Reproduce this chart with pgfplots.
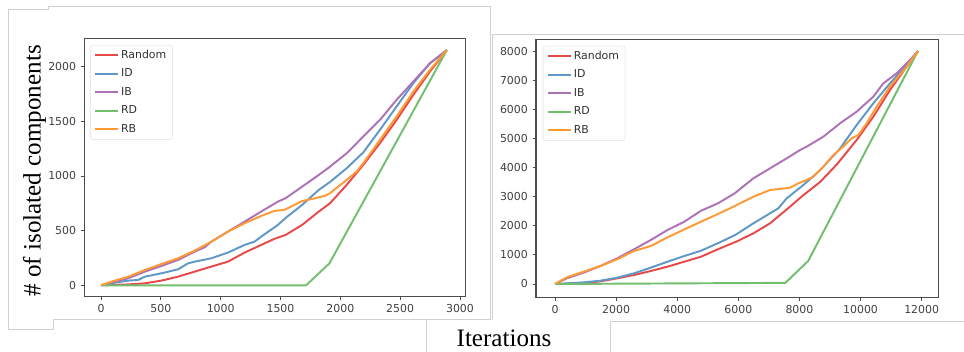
\documentclass[border=0pt]{standalone}
\usepackage{pgfplots}
\pgfplotsset{compat=1.18}
\usepackage{fontspec}
\setmainfont{Liberation Serif}
\newfontfamily\dejavu{DejaVu Sans}
\definecolor{cR}{RGB}{233,72,73}
\definecolor{cB}{RGB}{95,152,198}
\definecolor{cP}{RGB}{173,113,181}
\definecolor{cG}{RGB}{113,191,110}
\definecolor{cO}{RGB}{255,153,51}
\definecolor{frm}{RGB}{208,208,208}
\pgfplotsset{myax/.style={
  scale only axis, anchor=south west,
  axis line style={black!70, line width=0.8pt},
  tick align=outside, tick pos=left, major tick length=2.6pt,
  tick style={black!70, line width=0.6pt},
  ticklabel style={font=\dejavu\fontsize{8.2}{9}\selectfont, text=black!75},
  /pgf/number format/assume math mode=true,
  /pgf/number format/1000 sep={},
  scaled ticks=false,
  every axis plot/.append style={line width=1.45pt, no markers, line join=round},
  legend cell align=left,
  legend image code/.code={\draw[##1, line width=1.5pt] (0pt,0pt) -- (17pt,0pt);},
  legend style={font=\dejavu\fontsize{8.2}{9}\selectfont, text=black!80,
    draw=black!12, rounded corners=2pt, fill=white,
    nodes={text height=6.3pt, text depth=1.8pt, inner sep=1.6pt},
    row sep=2.6pt, inner xsep=3pt, inner ysep=2pt},
}}
\begin{document}
\begin{tikzpicture}
\path[use as bounding box] (0,0) rectangle (723pt,264pt);
% frame lines
\draw[frm, line width=0.75pt] (6.2pt,16.5pt) -- (6.2pt,256.9pt) -- (36pt,256.9pt) -- (36pt,259.1pt) -- (368pt,259.1pt);
\draw[frm, line width=0.75pt] (6.2pt,16.5pt) -- (40pt,16.5pt) -- (40pt,24pt) -- (368pt,24pt);
\draw[frm, line width=0.75pt] (368pt,259.1pt) -- (368pt,24pt);
\draw[frm, line width=0.75pt] (320.2pt,24pt) -- (320.2pt,0pt);
\draw[frm, line width=0.75pt] (723pt,237.75pt) -- (369.5pt,237.75pt) -- (369.5pt,24pt);
\draw[frm, line width=0.75pt] (457.5pt,0pt) -- (457.5pt,22.7pt) -- (723pt,22.7pt);
% left panel
\begin{axis}[myax, at={(63.2pt,41.5pt)}, width=286pt, height=193.5pt,
  xmin=-140, xmax=3047, ymin=-104, ymax=2255,
  xtick={0,500,...,3000}, ytick={0,500,...,2000},
  legend style={at={(0.015,0.976)}, anchor=north west}]
\addplot[cR] coordinates {(0,0) (228,8) (367,18) (506,43) (644,79) (783,125) (922,171) (1061,216) (1200,299) (1339,369) (1450,425) (1542,460) (1681,552) (1820,674) (1914,750) (2053,918) (2192,1101) (2331,1299) (2470,1512) (2610,1741) (2749,1954) (2890,2150)};
\addlegendentry{Random}
\addplot[cB] coordinates {(0,0) (117,24) (228,43) (311,49) (367,79) (506,110) (644,146) (728,201) (783,216) (922,247) (1061,299) (1200,369) (1283,399) (1339,445) (1478,552) (1542,615) (1681,735) (1820,872) (1914,945) (2053,1070) (2192,1215) (2331,1421) (2470,1634) (2610,1848) (2749,2030) (2890,2150)};
\addlegendentry{ID}
\addplot[cP] coordinates {(0,0) (89,24) (228,64) (367,125) (506,177) (644,232) (783,308) (867,348) (922,399) (1061,491) (1200,582) (1339,674) (1478,765) (1542,796) (1681,902) (1820,1009) (1914,1085) (2053,1207) (2192,1360) (2331,1512) (2470,1695) (2610,1863) (2749,2030) (2890,2150)};
\addlegendentry{IB}
\addplot[cG] coordinates {(0,0) (1714,0) (1909,201) (2890,2150)};
\addlegendentry{RD}
\addplot[cO] coordinates {(0,0) (89,34) (228,79) (367,140) (506,195) (644,247) (783,317) (922,399) (1061,491) (1200,567) (1339,634) (1450,680) (1533,689) (1681,770) (1765,790) (1876,820) (1914,842) (2053,964) (2136,1040) (2192,1116) (2331,1329) (2470,1543) (2610,1771) (2749,1970) (2890,2150)};
\addlegendentry{RB}
\end{axis}
% right panel
\begin{axis}[myax, at={(402pt,41pt)}, width=301.7pt, height=193.5pt,
  xmin=-622, xmax=12544, ymin=-457, ymax=8402,
  xtick={0,2000,...,12000}, ytick={0,1000,...,8000},
  legend style={at={(0.0167,0.975)}, anchor=north west}]
\addplot[cR] coordinates {(0,0) (934,23) (1484,92) (2033,195) (2582,309) (3132,446) (3681,595) (4231,767) (4780,938) (5400,1225) (5945,1460) (6491,1740) (7036,2083) (7582,2560) (8127,3050) (8672,3500) (9218,4100) (9873,4945) (10418,5746) (10964,6661) (11509,7462) (11880,8000)};
\addlegendentry{Random}
\addplot[cB] coordinates {(0,0) (934,57) (1484,114) (2033,217) (2582,366) (3132,561) (3681,767) (4231,961) (4780,1144) (5370,1420) (5910,1690) (6491,2083) (7036,2426) (7309,2598) (7582,2941) (8127,3399) (8672,3900) (9327,4650) (9873,5460) (10418,6204) (10964,6890) (11509,7519) (11880,8000)};
\addlegendentry{ID}
\addplot[cP] coordinates {(0,0) (385,195) (934,389) (1484,618) (2033,881) (2582,1190) (3132,1510) (3681,1854) (4231,2140) (4780,2517) (5330,2769) (5879,3112) (6491,3628) (7582,4315) (8018,4601) (8236,4716) (8782,5059) (9327,5517) (9873,5918) (10418,6433) (10745,6890) (11182,7233) (11618,7691) (11880,8000)};
\addlegendentry{IB}
\addplot[cG] coordinates {(0,0) (7540,40) (8285,790) (11880,8000)};
\addlegendentry{RD}
\addplot[cO] coordinates {(0,0) (385,229) (934,423) (1484,618) (2033,847) (2582,1133) (3132,1304) (3681,1602) (4231,1876) (4780,2140) (5330,2403) (5879,2677) (6099,2792) (6491,2999) (7036,3227) (7691,3307) (7964,3457) (8236,3571) (8454,3686) (8782,4029) (9109,4429) (9436,4716) (9709,5002) (9927,5116) (10200,5517) (10527,6089) (10964,6776) (11509,7462) (11880,8000)};
\addlegendentry{RB}
\end{axis}
\node[rotate=90, anchor=base, font=\fontsize{18.8}{20}\selectfont] at (30.5pt,135.9pt) {\# of isolated components};
\node[anchor=base, font=\fontsize{18.8}{20}\selectfont] at (378pt,4pt) {Iterations};
\end{tikzpicture}
\end{document}
